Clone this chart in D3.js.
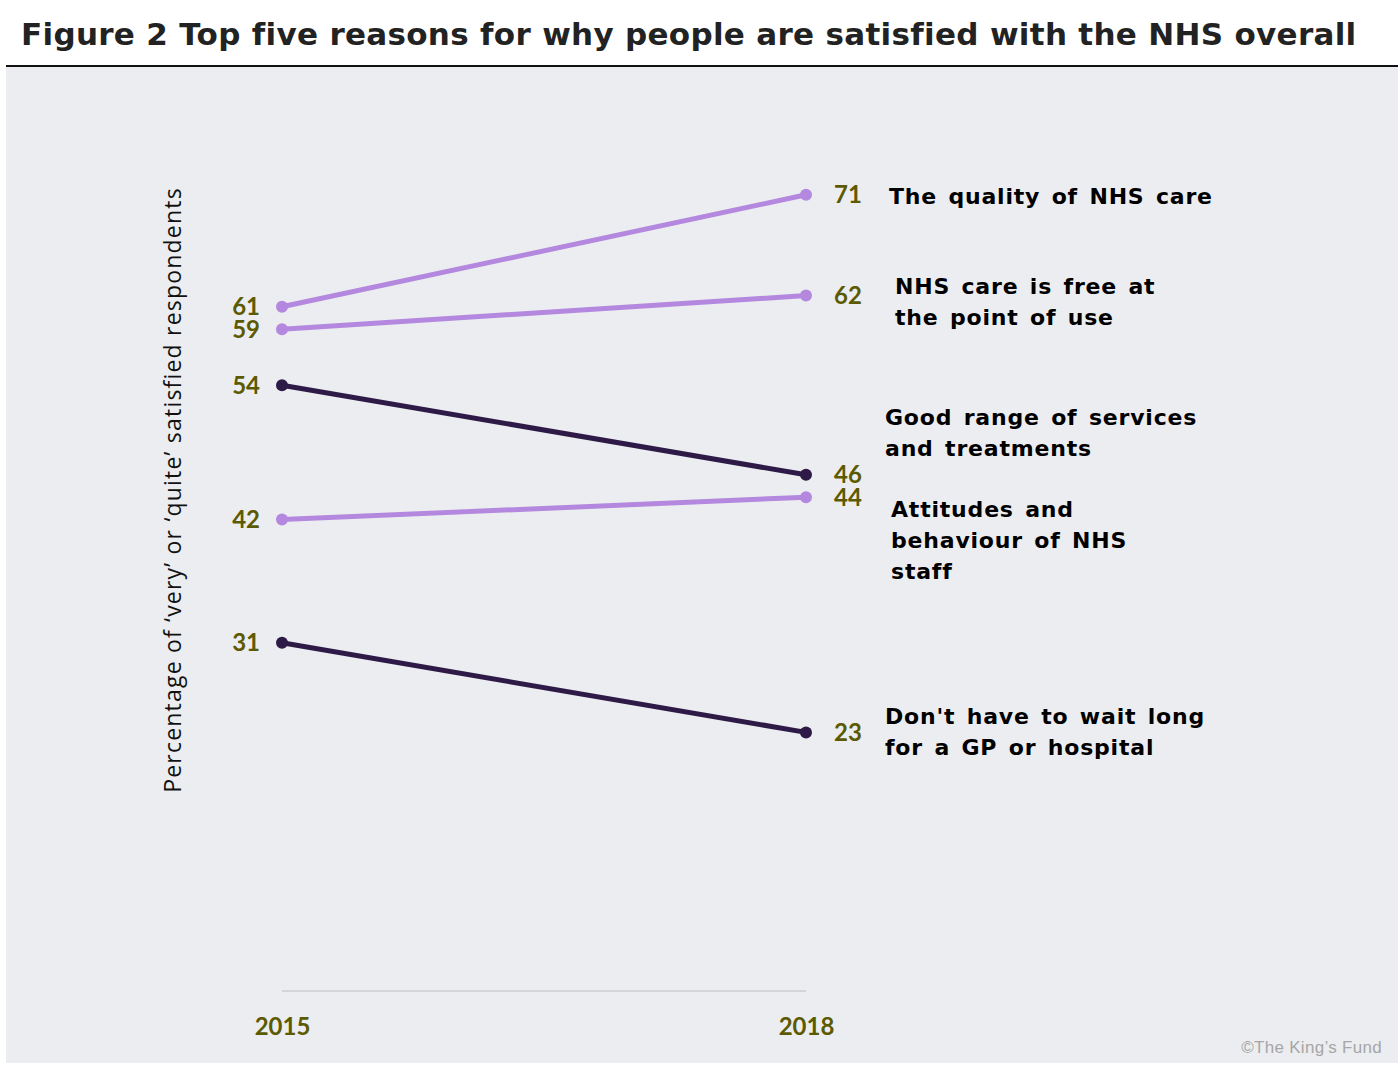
<!DOCTYPE html>
<html>
<head>
<meta charset="utf-8">
<script src="https://cdn.jsdelivr.net/npm/d3@7"></script>
<style>
  body { margin: 0; background: #fff; }
</style>
</head>
<body>
<script>
// data
var years = ['2015', '2018'];
var reasons = [
  'The quality of NHS care',
  'NHS care is free at the point of use',
  'Good range of services and treatments',
  'Attitudes and behaviour of NHS staff',
  "Don't have to wait long for a GP or hospital"
];
var values2015 = [61, 59, 54, 42, 31];
var values2018 = [71, 62, 46, 44, 23];
var labelLines = [
  ['The quality of NHS care'],
  ['NHS care is free at', 'the point of use'],
  ['Good range of services', 'and treatments'],
  ['Attitudes and', 'behaviour of NHS', 'staff'],
  ["Don't have to wait long", 'for a GP or hospital']
];
var tone = ['light', 'light', 'dark', 'light', 'dark'];

var W = 1400, H = 1065;
var colors = { light: '#b388de', dark: '#2e1a47' };
var numColor = '#5c5a00';

// label placement relative to the 2018 end point
var labelPos = [
  { dx: 83, dy: 1 },
  { dx: 89, dy: 6 },
  { dx: 79, dy: -42 },
  { dx: 85, dy: 43 },
  { dx: 79, dy: -1 }
];

var svg = d3.select('body').append('svg')
  .attr('width', W)
  .attr('height', H);

svg.append('rect')
  .attr('x', 6).attr('y', 67)
  .attr('width', 1392).attr('height', 996)
  .attr('fill', '#ecedf0');

svg.append('line')
  .attr('x1', 6).attr('x2', 1398)
  .attr('y1', 66).attr('y2', 66)
  .attr('stroke', '#111').attr('stroke-width', 2);

svg.append('text')
  .text('Figure 2 Top five reasons for why people are satisfied with the NHS overall')
  .attr('x', 21).attr('y', 45)
  .attr('font-family', 'DejaVu Sans')
  .attr('font-weight', 'bold')
  .attr('font-size', 31)
  .attr('letter-spacing', 0.3)
  .attr('fill', '#222');

var x = d3.scalePoint().domain(years).range([282, 806]);
var y = d3.scaleLinear().domain([0, 80]).range([990, 94]);

// baseline axis
var axis = svg.append('g')
  .attr('transform', 'translate(0,' + (y(0) + 1) + ')')
  .call(d3.axisBottom(x).tickSize(0).tickPadding(27));
axis.select('.domain')
  .attr('d', 'M' + x(years[0]) + ',0H' + x(years[1]))
  .attr('stroke', '#d3d5d9').attr('stroke-width', 2);
axis.selectAll('.tick text')
  .attr('font-family', 'Lato')
  .attr('font-weight', 'bold')
  .attr('font-size', 24)
  .attr('fill', numColor);

svg.append('text')
  .text('Percentage of \u2018very\u2019 or \u2018quite\u2019 satisfied respondents')
  .attr('transform', 'translate(181,490) rotate(-90)')
  .attr('text-anchor', 'middle')
  .attr('font-family', 'Open Sans')
  .attr('font-size', 23)
  .attr('letter-spacing', 1.2)
  .attr('fill', '#111');

var rows = reasons.map(function (r, i) {
  return { name: r, a: values2015[i], b: values2018[i], tone: tone[i], lines: labelLines[i], pos: labelPos[i] };
});

var g = svg.selectAll('g.series').data(rows).enter().append('g').attr('class', 'series');

g.append('line')
  .attr('x1', x(years[0])).attr('x2', x(years[1]))
  .attr('y1', function (d) { return y(d.a); })
  .attr('y2', function (d) { return y(d.b); })
  .attr('stroke', function (d) { return colors[d.tone]; })
  .attr('stroke-width', 5);

g.append('circle')
  .attr('cx', x(years[0]))
  .attr('cy', function (d) { return y(d.a); })
  .attr('r', 6)
  .attr('fill', function (d) { return colors[d.tone]; });

g.append('circle')
  .attr('cx', x(years[1]))
  .attr('cy', function (d) { return y(d.b); })
  .attr('r', 6)
  .attr('fill', function (d) { return colors[d.tone]; });

g.append('text')
  .text(function (d) { return d.a; })
  .attr('x', x(years[0]) - 22)
  .attr('y', function (d) { return y(d.a); })
  .attr('dy', '0.35em')
  .attr('text-anchor', 'end')
  .attr('font-family', 'Lato').attr('font-weight', 'bold')
  .attr('font-size', 24).attr('fill', numColor);

g.append('text')
  .text(function (d) { return d.b; })
  .attr('x', x(years[1]) + 28)
  .attr('y', function (d) { return y(d.b); })
  .attr('dy', '0.35em')
  .attr('font-family', 'Lato').attr('font-weight', 'bold')
  .attr('font-size', 24).attr('fill', numColor);

g.each(function (d) {
  var n = d.lines.length;
  var t = d3.select(this).append('text')
    .attr('font-family', 'DejaVu Sans').attr('font-weight', 'bold')
    .attr('font-size', 22)
    .attr('letter-spacing', 0.8)
    .attr('word-spacing', 3)
    .attr('fill', '#000');
  d.lines.forEach(function (line, k) {
    t.append('tspan')
      .attr('x', x(years[1]) + d.pos.dx)
      .attr('y', y(d.b) + d.pos.dy + (k - (n - 1) / 2) * 31)
      .attr('dy', '0.36em')
      .text(line);
  });
});

svg.append('text')
  .text('\u00a9The King\u2019s Fund')
  .attr('x', 1382).attr('y', 1053)
  .attr('text-anchor', 'end')
  .attr('font-family', 'Liberation Sans')
  .attr('font-size', 17)
  .attr('letter-spacing', 0.3)
  .attr('fill', '#a6a6a6');
</script>
</body>
</html>
